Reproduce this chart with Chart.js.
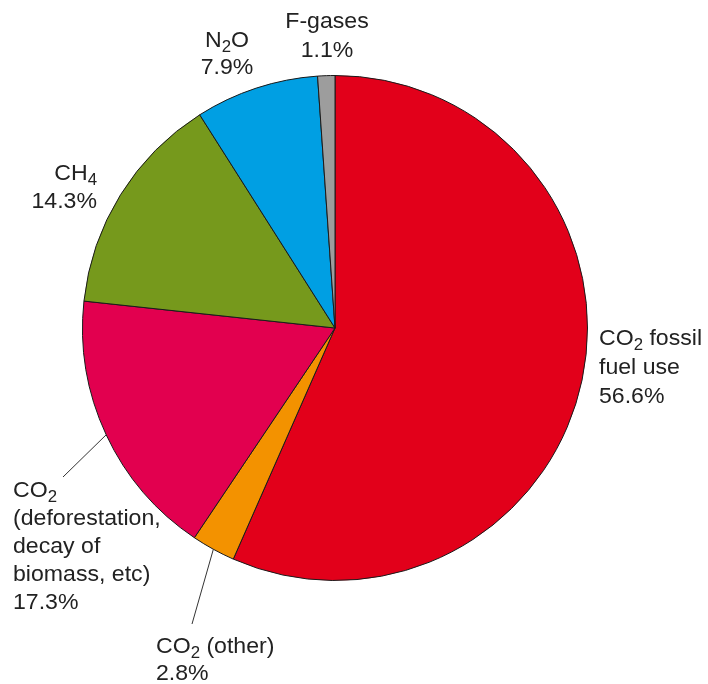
<!DOCTYPE html>
<html>
<head>
<meta charset="utf-8">
<script src="https://cdn.jsdelivr.net/npm/chart.js@4"></script>
<style>
html,body{margin:0;padding:0;background:#fff;}
#wrap{width:708px;height:684px;}
</style>
</head>
<body>
<div id="wrap"><canvas id="c" width="708" height="684"></canvas></div>
<script>
// ---- data ----
const categories = ["CO_2 fossil fuel use", "CO_2 (other)", "CO_2 (deforestation, decay of biomass, etc)", "CH_4", "N_2O", "F-gases"];
const shares = [56.6, 2.8, 17.3, 14.3, 7.9, 1.1];
const valueLabels = ["56.6%", "2.8%", "17.3%", "14.3%", "7.9%", "1.1%"];
// label text lines ("_x" = subscript character)
const labelLines = [
  ["CO_2 fossil", "fuel use", "56.6%"],
  ["CO_2 (other)", "2.8%"],
  ["CO_2", "(deforestation,", "decay of", "biomass, etc)", "17.3%"],
  ["CH_4", "14.3%"],
  ["N_2O", "7.9%"],
  ["F-gases", "1.1%"]
];
const sliceColors = ["#e2001a", "#f39200", "#e2004f", "#76991c", "#009fe3", "#9d9d9d"];

// ---- label layout (positions / styles) ----
const labelLayout = [
  {x: 599, y: 345, align: "left", lh: 29},
  {x: 156, y: 653, align: "left", lh: 27, leader: [192, 624]},
  {x: 13, y: 497, align: "left", lh: 28, leader: [63, 477]},
  {x: 97, y: 180, align: "right", lh: 28},
  {x: 227, y: 47, align: "center", lh: 27},
  {x: 327, y: 28, align: "center", lh: 29}
];
const FONT_SIZE = 22, SUB_SIZE = 16, TEXT_COLOR = "#222", STRETCH = 1.05;
const FAMILY = '"Liberation Sans", Arial, Helvetica, sans-serif';

function parseRich(s) {
  const segs = [];
  let buf = "";
  for (let i = 0; i < s.length; i++) {
    if (s[i] === "_" && i + 1 < s.length) {
      if (buf) segs.push({t: buf, sub: false});
      buf = "";
      segs.push({t: s[i + 1], sub: true});
      i++;
    } else buf += s[i];
  }
  if (buf) segs.push({t: buf, sub: false});
  return segs;
}
function drawRich(ctx, s, x, y, align) {
  const segs = parseRich(s);
  let w = 0;
  segs.forEach(sg => {
    ctx.font = (sg.sub ? SUB_SIZE : FONT_SIZE) + "px " + FAMILY;
    sg.w = ctx.measureText(sg.t).width;
    w += sg.w;
  });
  const sw = w * STRETCH;
  const x0 = align === "left" ? x : align === "right" ? x - sw : x - sw / 2;
  ctx.save();
  ctx.translate(x0, y);
  ctx.scale(STRETCH, 1);
  let cx = 0;
  segs.forEach(sg => {
    ctx.font = (sg.sub ? SUB_SIZE : FONT_SIZE) + "px " + FAMILY;
    ctx.fillText(sg.t, cx, sg.sub ? 5 : 0);
    cx += sg.w;
  });
  ctx.restore();
}

const labelPlugin = {
  id: "pieLabels",
  afterDatasetsDraw(chart) {
    const ctx = chart.ctx;
    const meta = chart.getDatasetMeta(0);
    ctx.save();
    ctx.fillStyle = TEXT_COLOR;
    ctx.textBaseline = "alphabetic";
    ctx.textAlign = "left";
    labelLines.forEach((lines, i) => {
      const L = labelLayout[i];
      if (L.leader) {
        const arc = meta.data[i];
        const p = arc.getProps(["x", "y", "startAngle", "endAngle", "outerRadius"], true);
        const mid = (p.startAngle + p.endAngle) / 2;
        ctx.beginPath();
        ctx.strokeStyle = "#333";
        ctx.lineWidth = 1;
        ctx.moveTo(p.x + Math.cos(mid) * p.outerRadius, p.y + Math.sin(mid) * p.outerRadius);
        ctx.lineTo(L.leader[0], L.leader[1]);
        ctx.stroke();
      }
      lines.forEach((ln, k) => drawRich(ctx, ln, L.x, L.y + k * L.lh, L.align));
    });
    ctx.restore();
  }
};

new Chart(document.getElementById("c"), {
  type: "pie",
  data: {
    labels: categories,
    datasets: [{
      data: shares,
      backgroundColor: sliceColors,
      borderColor: "#1a1a1a",
      borderWidth: 1
    }]
  },
  options: {
    responsive: false,
    animation: false,
    layout: {padding: {left: 82, right: 120, top: 75, bottom: 103}},
    plugins: {legend: {display: false}, tooltip: {enabled: false}}
  },
  plugins: [labelPlugin]
});
</script>
</body>
</html>
